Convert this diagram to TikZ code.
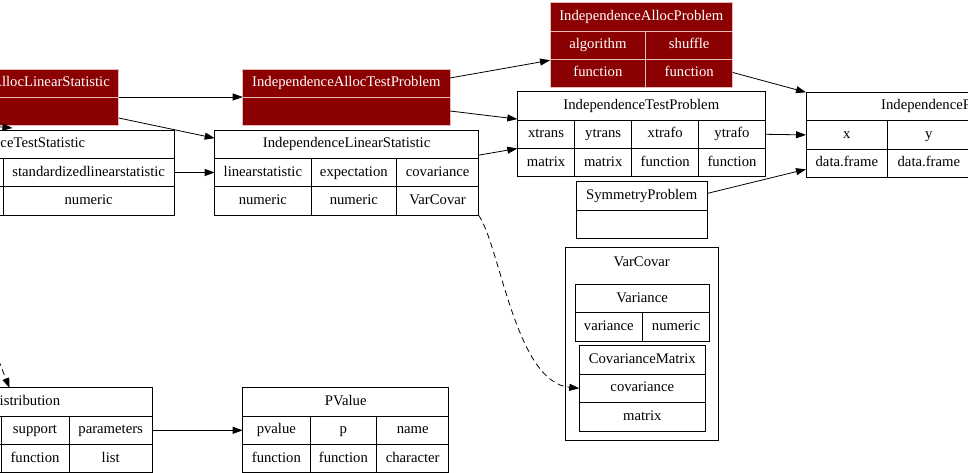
\documentclass[tikz,border=0pt]{standalone}
\usepackage{fontspec}
\setmainfont{Liberation Serif}
\usetikzlibrary{arrows.meta}
\definecolor{darkred}{RGB}{139,0,0}
\definecolor{cellline}{RGB}{228,185,185}
\tikzset{rec_style/.style={draw=black, line width=0.8pt, inner sep=0pt, outer sep=0pt,
                minimum height=28.4pt, text height=10pt, text depth=3pt, anchor=north west,
                font=\fontsize{14.7}{16}\selectfont}}
\begin{document}
\begin{tikzpicture} [x=1pt, y=-1pt,
                alloc_style/.style={rec_style, fill=darkred, draw=cellline, text=white},
                text_style/.style={inner sep=0pt, text height=10pt, text depth=3pt, font=\fontsize{14.7}{16}\selectfont},
                edge_style/.style={draw=black, line width=0.8pt, -{Triangle[length=10pt, width=7pt]}}]
                \tikzset{dashed edge/.style={edge_style, dash pattern=on 6pt off 4pt}}
                \useasboundingbox (0,0) rectangle (968,473);
                \clip (0,0) rectangle (968,473);
                % alloc linear statistic (cut at the left)
                \node[alloc_style, minimum width=240pt, minimum height=28pt, anchor=north east] (ials-h) at (118.7,69) {};
                \node[alloc_style, minimum width=240pt, minimum height=28pt, anchor=north east] (ials-b) at (118.7,97) {};
                \node[text_style, text=white, anchor=east] (ials-t) at (110,83) {AllocLinearStatistic};
                % alloc test problem
                \node[alloc_style, minimum width=207.3pt, minimum height=28pt] (iatp-h) at (242.7,69) {IndependenceAllocTestProblem};
                \node[alloc_style, minimum width=207.3pt, minimum height=28pt] (iatp-b) at (242.7,97) {};
                % linear statistic
                \node[rec_style, minimum width=263.8pt] (ils-h) at (214.7,130) {IndependenceLinearStatistic};
                \node[rec_style, minimum width=96.3pt] (ils-a1) at (214.7,158.3) {linearstatistic};
                \node[rec_style, minimum width=85.7pt] (ils-a2) at (311,158.3) {expectation};
                \node[rec_style, minimum width=81.8pt] (ils-a3) at (396.7,158.3) {covariance};
                \node[rec_style, minimum width=96.3pt] (ils-b1) at (214.7,186.7) {numeric};
                \node[rec_style, minimum width=85.7pt] (ils-b2) at (311,186.7) {numeric};
                \node[rec_style, minimum width=81.8pt] (ils-b3) at (396.7,186.7) {VarCovar};
                % alloc problem
                \node[alloc_style, minimum width=182.7pt, minimum height=28.3pt] (iap-h) at (550,2.7) {IndependenceAllocProblem};
                \node[alloc_style, minimum width=95.7pt, minimum height=28.3pt] (iap-a1) at (550,31) {algorithm};
                \node[alloc_style, minimum width=87pt, minimum height=28.3pt] (iap-a2) at (645.7,31) {shuffle};
                \node[alloc_style, minimum width=95.7pt, minimum height=28.3pt] (iap-b1) at (550,59.3) {function};
                \node[alloc_style, minimum width=87pt, minimum height=28.3pt] (iap-b2) at (645.7,59.3) {function};
                % test problem
                \node[rec_style, minimum width=248pt] (itp-h) at (517.3,91.7) {IndependenceTestProblem};
                \node[rec_style, minimum width=57.4pt] (itp-a1) at (517.3,120.1) {xtrans};
                \node[rec_style, minimum width=57pt] (itp-a2) at (574.7,120.1) {ytrans};
                \node[rec_style, minimum width=67pt] (itp-a3) at (631.7,120.1) {xtrafo};
                \node[rec_style, minimum width=66.6pt] (itp-a4) at (698.7,120.1) {ytrafo};
                \node[rec_style, minimum width=57.4pt] (itp-b1) at (517.3,148.5) {matrix};
                \node[rec_style, minimum width=57pt] (itp-b2) at (574.7,148.5) {matrix};
                \node[rec_style, minimum width=67pt] (itp-b3) at (631.7,148.5) {function};
                \node[rec_style, minimum width=66.6pt] (itp-b4) at (698.7,148.5) {function};
                % symmetry problem
                \node[rec_style, minimum width=131.3pt] (sp-h) at (576,181.7) {SymmetryProblem};
                \node[rec_style, minimum width=131.3pt] (sp-b) at (576,210.1) {};
                % independence problem (cut at the right)
                \node[rec_style, minimum width=280pt, minimum height=28.4pt] (ip-h) at (806,92.3) {};
                \node[text_style, anchor=west] (ip-t) at (881,106.5) {IndependenceP};
                \node[rec_style, minimum width=81.7pt] (ip-a1) at (806,120.7) {x};
                \node[rec_style, minimum width=82.3pt] (ip-a2) at (887.7,120.7) {y};
                \node[rec_style, minimum width=81.7pt] (ip-b1) at (806,149.1) {data.frame};
                \node[rec_style, minimum width=82.3pt] (ip-b2) at (887.7,149.1) {data.frame};
                % test statistic (cut at the left)
                \node[rec_style, minimum width=330pt, anchor=north east] (its-h) at (174,130) {};
                \node[text_style, anchor=west] (its-t) at (0.3,144.2) {ceTestStatistic};
                \node[rec_style, minimum width=160pt, anchor=north east] (its-a0) at (3.3,158.3) {};
                \node[rec_style, minimum width=170.7pt] (its-a1) at (3.3,158.3) {standardizedlinearstatistic};
                \node[rec_style, minimum width=160pt, anchor=north east] (its-b0) at (3.3,186.7) {};
                \node[rec_style, minimum width=170.7pt] (its-b1) at (3.3,186.7) {numeric};
                % distribution (cut at the left)
                \node[rec_style, minimum width=260pt, anchor=north east] (nd-h) at (152.3,387.7) {};
                \node[text_style, anchor=west] (nd-t) at (-0.5,401.9) {istribution};
                \node[rec_style, minimum width=120pt, anchor=north east] (nd-a0) at (1,416.1) {};
                \node[rec_style, minimum width=68pt] (nd-a1) at (1,416.1) {support};
                \node[rec_style, minimum width=83.3pt] (nd-a2) at (69,416.1) {parameters};
                \node[rec_style, minimum width=120pt, anchor=north east] (nd-b0) at (1,444.4) {};
                \node[rec_style, minimum width=68pt] (nd-b1) at (1,444.4) {function};
                \node[rec_style, minimum width=83.3pt] (nd-b2) at (69,444.4) {list};
                % pvalue
                \node[rec_style, minimum width=206pt] (pv-h) at (242.7,387.7) {PValue};
                \node[rec_style, minimum width=67.3pt] (pv-a1) at (242.7,416.1) {pvalue};
                \node[rec_style, minimum width=66.7pt] (pv-a2) at (310,416.1) {p};
                \node[rec_style, minimum width=72pt] (pv-a3) at (376.7,416.1) {name};
                \node[rec_style, minimum width=67.3pt] (pv-b1) at (242.7,444.4) {function};
                \node[rec_style, minimum width=66.7pt] (pv-b2) at (310,444.4) {function};
                \node[rec_style, minimum width=72pt] (pv-b3) at (376.7,444.4) {character};
                % varcovar cluster
                \node[rec_style, minimum width=153.3pt, minimum height=192.7pt] (vc) at (565,247.3) {};
                \node[text_style] (vc-t) at (641.7,262.5) {VarCovar};
                \node[rec_style, minimum width=134.3pt] (var-h) at (575,284.3) {Variance};
                \node[rec_style, minimum width=67.7pt, minimum height=29pt] (var-a1) at (575,312.7) {variance};
                \node[rec_style, minimum width=66.6pt, minimum height=29pt] (var-a2) at (642.7,312.7) {numeric};
                \node[rec_style, minimum width=126pt] (cm-h) at (579.3,345.7) {CovarianceMatrix};
                \node[rec_style, minimum width=126pt] (cm-a) at (579.3,374.1) {covariance};
                \node[rec_style, minimum width=126pt] (cm-b) at (579.3,402.5) {matrix};
                % loose ends off the left edge
                \coordinate (in1-s) at (-60,121.5);
                \coordinate (in1-e) at (12.5,128);
                \coordinate (in2-s) at (-1.5,360);
                \coordinate (in2-e) at (9.5,388);
                % edges
                \draw [edge_style] (ials-h.south east) -- (iatp-h.south west);
                \draw [edge_style] ([yshift=-7pt]ials-b.east) -- ([yshift=6pt]ils-h.west);
                \draw [edge_style] (its-a1.east) -- (ils-a1.west);
                \draw [edge_style] ([yshift=5pt]iatp-h.east) -- ([yshift=-1pt]iap-a1.south west);
                \draw [edge_style] (iatp-b.east) -- ([yshift=1pt]itp-h.south west);
                \draw [edge_style] ([yshift=-11pt]ils-h.east) -- (itp-a1.south west);
                \draw [edge_style] ([yshift=1pt]iap-b2.east) -- (ip-h.north west);
                \draw [edge_style] (itp-a4.east) -- (ip-a1.west);
                \draw [edge_style] ([yshift=2.5pt]sp-h.east) -- ([yshift=-6pt]ip-b1.west);
                \draw [dashed edge] (ils-b3.south east) .. controls (500,245) and (515,382) .. (cm-a.west);
                \draw [edge_style] (nd-a2.east) -- (pv-a1.west);
                \draw [edge_style] (in1-s) -- (in1-e);
                \draw [dashed edge] (in2-s) -- (in2-e);
            \end{tikzpicture}
\end{document}
